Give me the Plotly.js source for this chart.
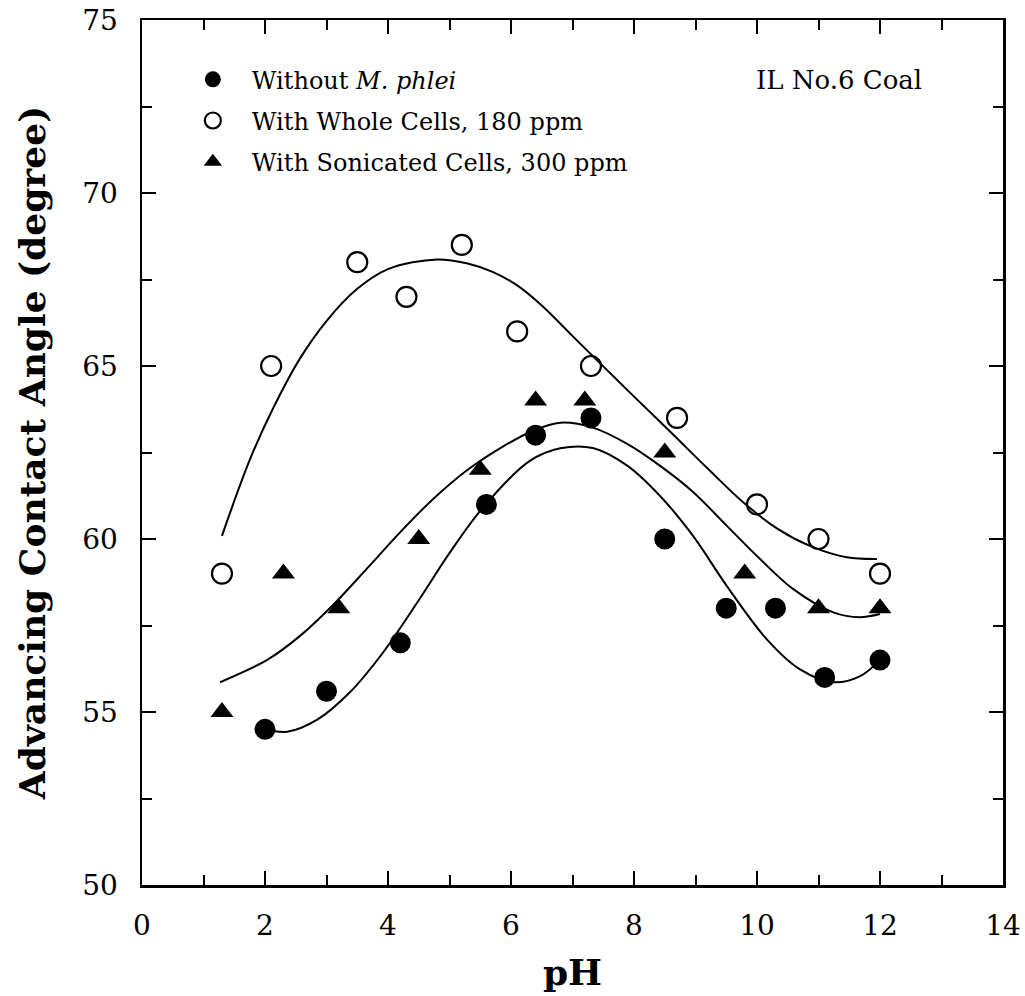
<!DOCTYPE html>
<html>
<head>
<meta charset="utf-8">
<script src="https://cdn.plot.ly/plotly-3.0.1.min.js"></script>
<style>html,body{margin:0;padding:0;background:#fff;}#chart{width:1025px;height:996px;}</style>
</head>
<body>
<div id="chart"></div>
<script>
// Measured points
var withoutX = [2, 3, 4.2, 5.6, 6.4, 7.3, 8.5, 9.5, 10.3, 11.1, 12];
var withoutY = [54.5, 55.6, 57.0, 61.0, 63.0, 63.5, 60.0, 58.0, 58.0, 56.0, 56.5];
var wholeX = [1.3, 2.1, 3.5, 4.3, 5.2, 6.1, 7.3, 8.7, 10.0, 11.0, 12.0];
var wholeY = [59.0, 65.0, 68.0, 67.0, 68.5, 66.0, 65.0, 63.5, 61.0, 60.0, 59.0];
var sonicX = [1.3, 2.3, 3.2, 4.5, 5.5, 6.4, 7.2, 8.5, 9.8, 11.0, 12.0];
var sonicY = [55.0, 59.0, 58.0, 60.0, 62.0, 64.0, 64.0, 62.5, 59.0, 58.0, 58.0];

// Fitted curves
var fitWithoutX = [2.0, 2.36, 2.85, 3.38, 3.92, 4.47, 5.01, 5.54, 6.3, 6.8, 7.33, 7.89, 8.42, 8.96, 9.51, 10.16, 10.7, 11.24, 11.67, 12.0];
var fitWithoutY = [54.5, 54.43, 54.78, 55.57, 56.72, 58.15, 59.62, 60.9, 62.25, 62.62, 62.63, 62.12, 61.25, 60.09, 58.64, 57.1, 56.23, 55.86, 56.03, 56.5];
var fitWholeX = [1.3, 1.76, 2.13, 2.57, 3.0, 3.5, 4.0, 4.8, 5.28, 5.7, 6.1, 6.5, 7.01, 7.5, 7.98, 8.59, 9.19, 9.77, 10.33, 10.86, 11.46, 11.95];
var fitWholeY = [60.09, 62.32, 63.77, 65.22, 66.3, 67.23, 67.8, 68.08, 67.97, 67.72, 67.33, 66.75, 65.85, 64.99, 64.15, 63.1, 62.05, 61.07, 60.3, 59.8, 59.47, 59.42];
var fitSonicX = [1.27, 2.03, 2.57, 3.11, 3.66, 4.2, 4.73, 5.28, 5.82, 6.36, 6.8, 7.33, 7.89, 8.42, 8.96, 9.51, 10.05, 10.59, 11.24, 11.67, 12.0];
var fitSonicY = [55.86, 56.5, 57.2, 58.1, 59.15, 60.2, 61.15, 61.98, 62.62, 63.13, 63.36, 63.22, 62.75, 62.12, 61.36, 60.38, 59.42, 58.55, 57.88, 57.74, 57.83];

var legendNames = ["Without <i>M. phlei</i>", "With Whole Cells, 180 ppm", "With Sonicated Cells, 300 ppm"];
var noteText = "IL No.6 Coal";
var xTitle = "pH";
var yTitle = "Advancing Contact Angle (degree)";

var FONT = "DejaVu Serif, Liberation Serif, serif";
var lineStyle = {color: "#000", width: 2, shape: "spline", smoothing: 1};

var traces = [
  {x: fitWithoutX, y: fitWithoutY, mode: "lines", line: lineStyle, showlegend: false, hoverinfo: "skip"},
  {x: fitWholeX, y: fitWholeY, mode: "lines", line: lineStyle, showlegend: false, hoverinfo: "skip"},
  {x: fitSonicX, y: fitSonicY, mode: "lines", line: lineStyle, showlegend: false, hoverinfo: "skip"},
  {x: withoutX, y: withoutY, mode: "markers", name: legendNames[0], legendgroup: "a",
   marker: {symbol: "circle", size: 21, color: "#000", line: {color: "#000", width: 0}}},
  {x: wholeX, y: wholeY, mode: "markers", name: legendNames[1], legendgroup: "b",
   marker: {symbol: "circle-open", size: 20, color: "#000", line: {color: "#000", width: 2.2}}},
  {x: sonicX, y: sonicY, mode: "markers", name: legendNames[2], legendgroup: "c",
   marker: {symbol: "triangle-up", size: 20, color: "#000", line: {color: "#000", width: 0}}}
];

var axisCommon = {
  showline: true, linecolor: "#000", linewidth: 2.5, mirror: "ticks",
  ticks: "inside", ticklen: 14, tickwidth: 2, tickcolor: "#000",
  showgrid: false, zeroline: false,
  tickfont: {family: FONT, size: 28, color: "#000"}
};

var layout = {
  width: 1025, height: 996,
  margin: {l: 142, r: 22, t: 20, b: 111, pad: 0},
  paper_bgcolor: "#fff", plot_bgcolor: "#fff",
  font: {family: FONT, color: "#000"},
  xaxis: Object.assign({}, axisCommon, {
    range: [0, 14], tick0: 0, dtick: 2,
    minor: {dtick: 1, ticks: "inside", ticklen: 10, tickwidth: 2, tickcolor: "#000", showgrid: false},
    ticklabelstandoff: 14,
    title: {text: xTitle, font: {family: FONT, size: 36, color: "#000", weight: "bold"}, standoff: 19}
  }),
  yaxis: Object.assign({}, axisCommon, {
    range: [50, 75], tick0: 50, dtick: 5,
    minor: {dtick: 2.5, ticks: "inside", ticklen: 10, tickwidth: 2, tickcolor: "#000", showgrid: false},
    ticklabelstandoff: 16,
    title: {text: yTitle, font: {family: FONT, size: 36, color: "#000", weight: "bold"}, standoff: 26}
  }),
  showlegend: true,
  legend: {
    x: 0.037, y: 0.957, xanchor: "left", yanchor: "top",
    bgcolor: "rgba(0,0,0,0)", borderwidth: 0,
    font: {family: FONT, size: 24, color: "#000"},
    itemwidth: 68, tracegroupgap: 7, traceorder: "grouped"
  },
  annotations: [{
    text: noteText, xref: "paper", yref: "paper", x: 0.908, y: 0.9306,
    xanchor: "right", yanchor: "middle", showarrow: false,
    font: {family: FONT, size: 26, color: "#000"}
  }]
};

Plotly.newPlot("chart", traces, layout, {staticPlot: true, displayModeBar: false});
</script>
</body>
</html>
